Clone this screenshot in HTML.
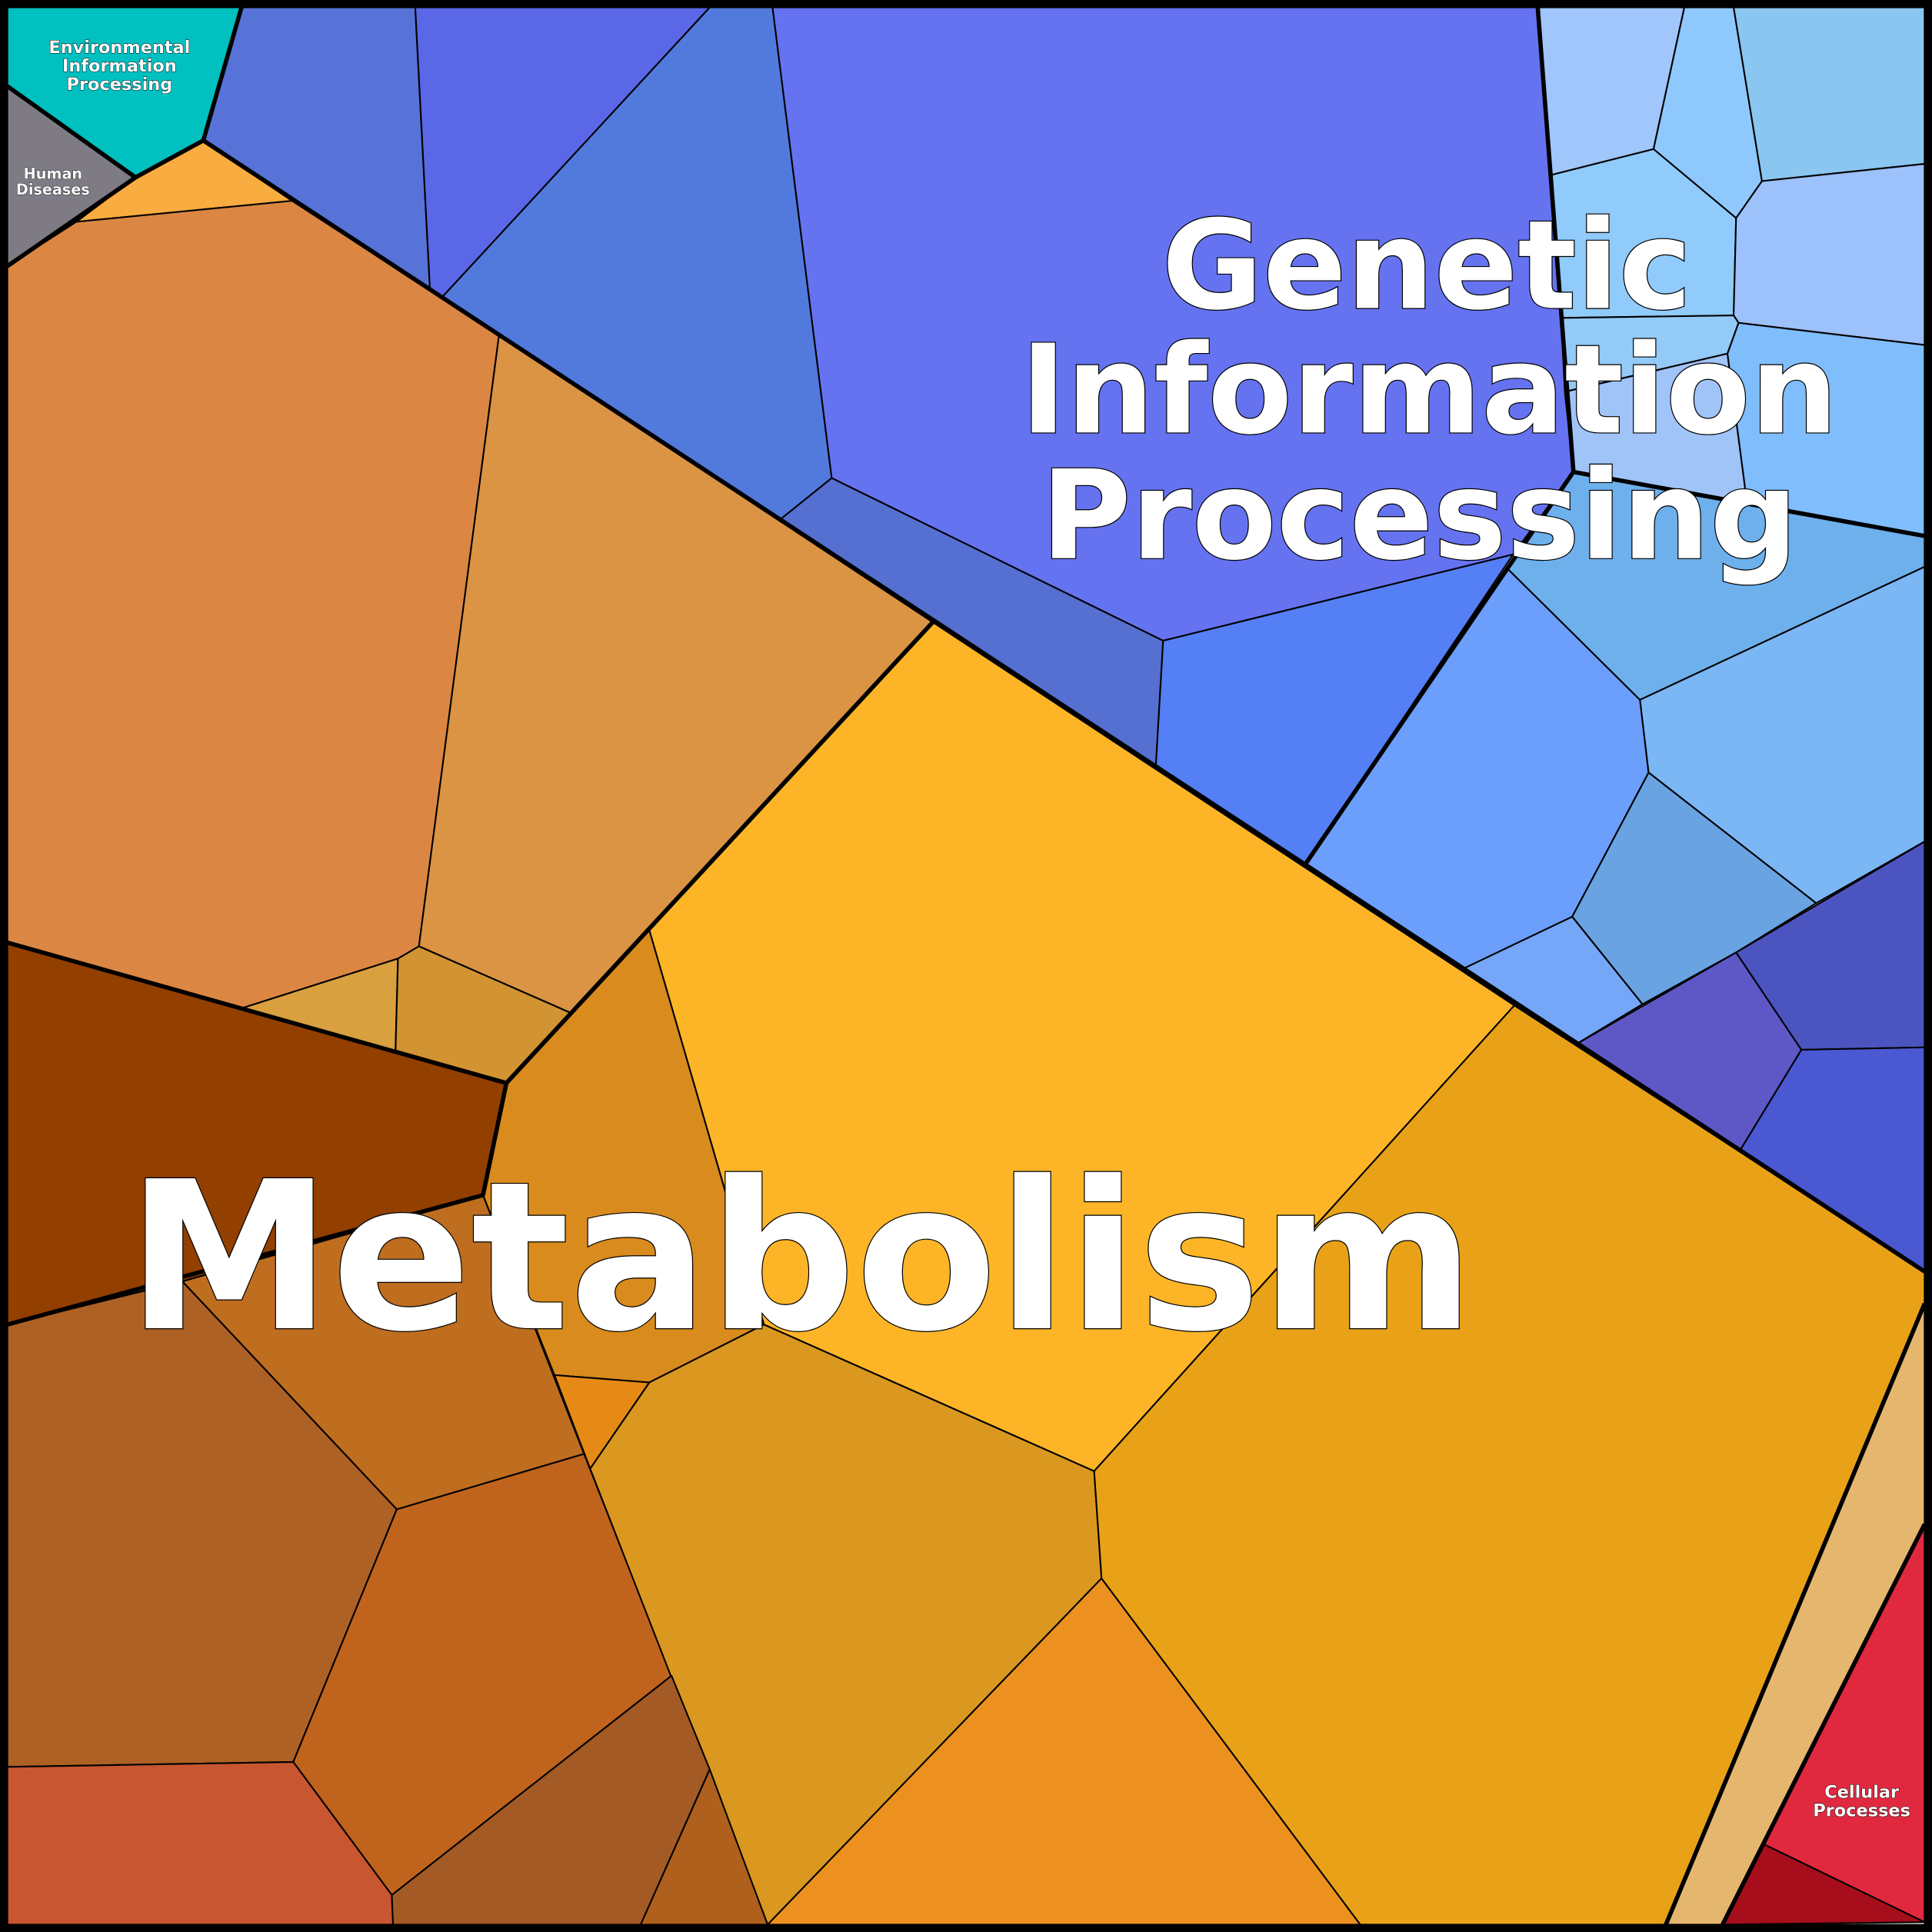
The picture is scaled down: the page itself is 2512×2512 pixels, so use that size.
<!DOCTYPE html>
<html><head><meta charset="utf-8"><style>html,body{margin:0;padding:0;background:#fff}svg{display:block}</style></head>
<body>
<svg xmlns="http://www.w3.org/2000/svg" width="2512" height="2512" viewBox="0 0 1568 1568">
<g stroke="#000" stroke-width="1.3" stroke-linejoin="round">
<polygon fill="#00C0C0" points="6,6 196,6 165,114 110,144 6,70"/>
<polygon fill="#7f7b85" points="6,70 110,144 6,216"/>
<polygon fill="#F9AC3F" points="110,144 165,114 237,163 62,180"/>
<polygon fill="#DB8743" points="6,216 62,180 237,163 405,272 340,768 323,778 197,818 6,765"/>
<polygon fill="#DA9444" points="405,272 757,505 463,822 340,768"/>
<polygon fill="#D9A040" points="197,818 323,778 321,853"/>
<polygon fill="#D29333" points="323,778 340,768 463,822 411,879 321,853"/>
<polygon fill="#933F00" points="6,765 197,818 321,853 411,879 392,970 148,1040 6,1075"/>
<polygon fill="#FDB527" points="757,505 1229,816 888,1194 620,1075 527,755"/>
<polygon fill="#D98B1E" points="411,879 527,755 620,1075 527,1122 450,1116 392,970"/>
<polygon fill="#BF6D1F" points="148,1040 392,970 474,1180 322,1225"/>
<polygon fill="#AE6124" points="6,1075 148,1040 322,1225 238,1430 6,1434"/>
<polygon fill="#C0641D" points="322,1225 474,1180 545,1360 318,1538 238,1430"/>
<polygon fill="#E68A16" points="450,1116 527,1122 479,1192"/>
<polygon fill="#DA9821" points="527,1122 620,1075 888,1194 894,1281 623,1562 479,1192"/>
<polygon fill="#C85630" points="6,1434 238,1430 318,1538 319,1562 6,1562"/>
<polygon fill="#A35A24" points="318,1538 545,1360 576,1436 520,1562 319,1562"/>
<polygon fill="#B0601D" points="576,1436 623,1562 520,1562"/>
<polygon fill="#EC9120" points="623,1562 894,1281 1104,1562"/>
<polygon fill="#E9A218" points="1229,816 1562,1032 1562,1058 1352,1562 1104,1562 894,1281 888,1194"/>
<polygon fill="#E5B66E" points="1562,1058 1562,1237 1398,1562 1352,1562"/>
<polygon fill="#E0283F" points="1562,1237 1562,1560 1432,1497 1398,1562"/>
<polygon fill="#A60E1B" points="1432,1497 1562,1560 1398,1562"/>
<polygon fill="#5773D8" points="196,6 337,6 349,236 165,114"/>
<polygon fill="#5A67E6" points="337,6 576,6 359,241 349,236"/>
<polygon fill="#527ADD" points="576,6 627,6 675,388 634,421 359,241"/>
<polygon fill="#6573F1" points="627,6 1248,6 1277,383 1228,450 944,520 675,388"/>
<polygon fill="#5570D0" points="634,421 675,388 944,520 938,623"/>
<polygon fill="#557FF5" points="944,520 1228,450 1059,702 938,623"/>
<polygon fill="#6C9EFB" points="1224,462 1331,568 1338,627 1276,744 1188,786 1059,702"/>
<polygon fill="#6DB0EC" points="1277,383 1562,435 1562,460 1331,568 1224,462"/>
<polygon fill="#7BB6F5" points="1331,568 1562,460 1562,683 1474,733 1338,627"/>
<polygon fill="#69A3E2" points="1276,744 1338,627 1474,733 1409,773 1333,815"/>
<polygon fill="#75A6F7" points="1188,786 1276,744 1333,815 1280,847"/>
<polygon fill="#5E58C7" points="1280,847 1409,773 1462,852 1412,934"/>
<polygon fill="#4C54C0" points="1409,773 1562,683 1562,850 1462,852"/>
<polygon fill="#4A58D2" points="1462,852 1562,850 1562,1032 1412,934"/>
<polygon fill="#A1C6FC" points="1248,6 1367,6 1342,121 1259,142"/>
<polygon fill="#8FC8FC" points="1367,6 1407,6 1430,147 1409,177 1342,121"/>
<polygon fill="#8BC6F0" points="1407,6 1562,6 1562,133 1430,147"/>
<polygon fill="#90CBFB" points="1259,142 1342,121 1409,177 1407,256 1267,258"/>
<polygon fill="#9DC1FA" points="1409,177 1430,147 1562,133 1562,280 1411,262 1407,256"/>
<polygon fill="#93CAF7" points="1267,258 1407,256 1411,262 1402,287 1270,318"/>
<polygon fill="#A0C4F8" points="1270,318 1402,287 1418,409 1277,383"/>
<polygon fill="#80BDFC" points="1402,287 1411,262 1562,280 1562,435 1418,409"/>
</g>
<g fill="none" stroke="#000" stroke-width="3.5" stroke-linejoin="round">
<polyline points="6,70 110,144 6,216"/>
<polyline points="196,6 165,114 110,144"/>
<polyline points="165,114 1562,1032"/>
<polyline points="1248,6 1277,383 1562,435"/>
<polyline points="1277,383 1059,702"/>
<polyline points="1562,1058 1352,1562"/>
<polyline points="1562,1237 1398,1562"/>
<polyline points="6,765 411,879 392,970 6,1075"/>
<polyline points="757,505 411,879"/>
</g>
<rect x="3" y="3" width="1562" height="1562" fill="none" stroke="#000" stroke-width="7"/>
<g font-family="'DejaVu Sans','Liberation Sans',sans-serif" font-weight="bold" fill="#fff" stroke="#000" paint-order="stroke" text-anchor="middle">
<text font-size="100" stroke-width="1.5"><tspan x="1158" y="250">Genetic</tspan><tspan x="1160" y="351">Information</tspan><tspan x="1152" y="453">Processing</tspan></text>
<text x="650" y="1078" font-size="167" stroke-width="1.5">Metabolism</text>
<text font-size="14" stroke-width="0.6"><tspan x="97" y="43">Environmental</tspan><tspan x="97" y="58">Information</tspan><tspan x="97" y="73">Processing</tspan></text>
<text font-size="12" stroke-width="0.5"><tspan x="43" y="145">Human</tspan><tspan x="43" y="158">Diseases</tspan></text>
<text font-size="14" stroke-width="0.6"><tspan x="1511" y="1459">Cellular</tspan><tspan x="1511" y="1474">Processes</tspan></text>
</g>
</svg>
</body></html>
